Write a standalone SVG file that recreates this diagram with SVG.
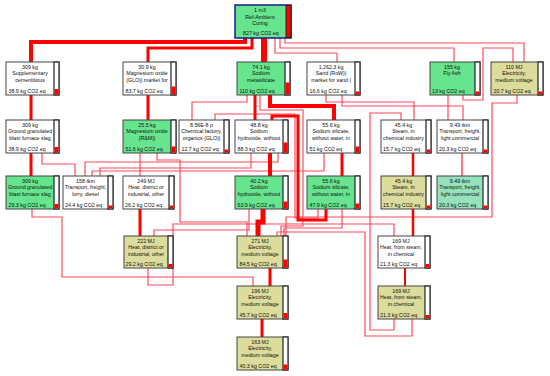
<svg xmlns="http://www.w3.org/2000/svg" width="550" height="376" viewBox="0 0 550 376">
<style>
.b{stroke:#444;stroke-width:1}
.w{fill:#fff}.g{fill:#66e48e}.k{fill:#dcdc9c}.tg{fill:#96e2bc}
.bar{fill:#fff;stroke:#222;stroke-width:1.2}
.r{fill:#f00}
text{font-family:"Liberation Sans",Arial,sans-serif;font-size:5.3px;fill:#111}
.c{text-anchor:middle}
.th{fill:none;stroke:#ff0000;stroke-linejoin:miter}
.tn{fill:none;stroke:#ff4b5c;stroke-width:1.2}
</style>
<rect width="550" height="376" fill="#fff"/>
<g id="connectors">
<path class="tn" d="M275,38 V53 H337 V62"/>
<path class="tn" d="M280,38 V48 H454 V62"/>
<path class="tn" d="M285,38 V43 H524 V62"/>
<path class="tn" d="M247,95 V102 H192 V120"/>
<path class="tn" d="M260,95 V110 H303 V226 H281 V236"/>
<path class="tn" d="M342,95 V106 H463 V120"/>
<path class="tn" d="M326,95 V102 H414 V120"/>
<path class="tn" d="M448,95 V120"/>
<path class="tn" d="M463,95 V100 H483 V48 H513 V62"/>
<path class="tn" d="M517,95 V103 H492 V217 H286 V236"/>
<path class="tn" d="M394,319 V330 H370 V113 H401 V120"/>
<path class="tn" d="M412,319 V336 H365 V232 H277 V236"/>
<path class="tn" d="M148,268 V285 H173 V224 H394 V236"/>
<path class="tn" d="M32,209 V217 H62 V277 H253 V286"/>
<path class="tn" d="M42,153 V164 H75 V176"/>
<path class="tn" d="M140,153 V176"/>
<path class="tn" d="M157,153 V160 H180 V222 H247 V236"/>
<path class="tn" d="M249,209 V230 H154 V236"/>
<path class="tn" d="M318,209 V218 H295 V114 H215 V120"/>
<path class="tn" d="M324,153 V171 H92 V176"/>
<path class="tn" d="M251,153 V168 H100 V176"/>
<path class="tn" d="M278,153 V162 H85 V176"/>
<path class="tn" d="M342,209 V228 H284 V236"/>
<path class="tn" d="M462,153 V176" style="stroke-width:1.5"/>
<path class="th" d="M245,38 V42 H31 V62" stroke-width="4"/>
<path class="th" d="M252,38 V48 H148 V62" stroke-width="3"/>
<path class="th" d="M264,38 V62" stroke-width="6"/>
<path class="th" d="M31,95 V120" stroke-width="3"/>
<path class="th" d="M148,95 V120" stroke-width="3"/>
<path class="th" d="M255,95 V120" stroke-width="3"/>
<path class="th" d="M270,95 V106 H334 V120" stroke-width="4"/>
<path class="th" d="M31,153 V176" stroke-width="3"/>
<path class="th" d="M270,153 V176" stroke-width="4"/>
<path class="th" d="M342,153 V176" stroke-width="3"/>
<path class="th" d="M413,153 V176" stroke-width="2.5"/>
<path class="th" d="M140,209 V236" stroke-width="3"/>
<path class="th" d="M263,209 V222 H258 V236" stroke-width="5"/>
<path class="th" d="M326,209 V220 H298 V116 H272 V120" stroke-width="3"/>
<path class="th" d="M413,209 V236" stroke-width="2.5"/>
<path class="th" d="M405,268 V286" stroke-width="2"/>
<path class="th" d="M270,268 V286" stroke-width="3"/>
<path class="th" d="M262,319 V337" stroke-width="3"/>
</g>
<g id="n-top"><rect class="g" x="235" y="5" width="56" height="33" stroke="#1a1a8a" stroke-width="1.5"/><rect x="286" y="5.5" width="5" height="32" fill="#f00" stroke="#222" stroke-width="1"/><text class="c" x="260" y="12">1 m3</text><text class="c" x="260" y="18.5">Ref-Ambient</text><text class="c" x="260" y="25">Curing</text><text x="243" y="35">827 kg CO2 eq</text></g>
<g id="n-supp"><rect class="b w" x="6" y="62" width="53" height="33"/><rect class="bar" x="54" y="62" width="5" height="33"/><rect class="r" x="54.5" y="89" width="4" height="5.5"/><text class="c" x="30" y="68.5">309 kg</text><text class="c" x="30" y="75">Supplementary</text><text class="c" x="30" y="81.5">cementitious</text><text x="8.5" y="92.5">38.9 kg CO2 eq</text></g>
<g id="n-mgomkt"><rect class="b w" x="123" y="62" width="53" height="33"/><rect class="bar" x="171" y="62" width="5" height="33"/><rect class="r" x="171.5" y="86.5" width="4" height="8"/><text class="c" x="147" y="68.5">30.9 kg</text><text class="c" x="147" y="75">Magnesium oxide</text><text class="c" x="147" y="81.5">{GLO}| market for</text><text x="125.5" y="92.5">83.7 kg CO2 eq</text></g>
<g id="n-meta"><rect class="b g" x="237" y="62" width="53" height="33"/><rect class="bar" x="285" y="62" width="5" height="33"/><rect class="r" x="285.5" y="82.5" width="4" height="12"/><text class="c" x="261" y="68.5">74.1 kg</text><text class="c" x="261" y="75">Sodium</text><text class="c" x="261" y="81.5">metasilicate</text><text x="239.5" y="92.5">110 kg CO2 eq</text></g>
<g id="n-sand"><rect class="b w" x="307" y="62" width="53" height="33"/><rect class="bar" x="355" y="62" width="5" height="33"/><rect class="r" x="355.5" y="91.5" width="4" height="3"/><text class="c" x="331" y="68.5">1,262.3 kg</text><text class="c" x="331" y="75">Sand {RoW}|</text><text class="c" x="331" y="81.5">market for sand |</text><text x="309.5" y="92.5">16.6 kg CO2 eq</text></g>
<g id="n-fly"><rect class="b g" x="430" y="62" width="50" height="33"/><rect class="bar" x="475" y="62" width="5" height="33"/><rect class="r" x="475.5" y="91.5" width="4" height="3"/><text class="c" x="452" y="68.5">155 kg</text><text class="c" x="452" y="75">Fly Ash</text><text x="432" y="92.5">13 kg CO2 eq</text></g>
<g id="n-elec110"><rect class="b k" x="491" y="62" width="52" height="33"/><rect class="bar" x="538" y="62" width="5" height="33"/><rect class="r" x="538.5" y="91.5" width="4" height="3"/><text class="c" x="514" y="68.5">110 MJ</text><text class="c" x="514" y="75">Electricity,</text><text class="c" x="514" y="81.5">medium voltage</text><text x="493.5" y="92.5">20.7 kg CO2 eq</text></g>
<g id="n-slag1"><rect class="b w" x="6" y="120" width="53" height="33"/><rect class="bar" x="54" y="120" width="5" height="33"/><rect class="r" x="54.5" y="147" width="4" height="5.5"/><text class="c" x="30" y="126.5">309 kg</text><text class="c" x="30" y="133">Ground granulated</text><text class="c" x="30" y="139.5">blast furnace slag</text><text x="8.5" y="150.5">38.9 kg CO2 eq</text></g>
<g id="n-mgorm"><rect class="b g" x="123" y="120" width="53" height="33"/><rect class="bar" x="171" y="120" width="5" height="33"/><rect class="r" x="171.5" y="146.5" width="4" height="6"/><text class="c" x="147" y="126.5">25.5 kg</text><text class="c" x="147" y="133">Magnesium oxide</text><text class="c" x="147" y="139.5">{R&amp;M}|</text><text x="125.5" y="150.5">51.6 kg CO2 eq</text></g>
<g id="n-chem"><rect class="b w" x="179" y="120" width="50" height="33"/><rect class="bar" x="224" y="120" width="5" height="33"/><rect class="r" x="224.5" y="149.5" width="4" height="3"/><text class="c" x="201.5" y="126.5">8.56E-8 p</text><text class="c" x="201.5" y="133">Chemical factory,</text><text class="c" x="201.5" y="139.5">organics {GLO}|</text><text x="181.5" y="150.5">12.7 kg CO2 eq</text></g>
<g id="n-naoh1"><rect class="b w" x="235" y="120" width="53" height="33"/><rect class="bar" x="283" y="120" width="5" height="33"/><rect class="r" x="283.5" y="142.5" width="4" height="10"/><text class="c" x="259" y="126.5">48.8 kg</text><text class="c" x="259" y="133">Sodium</text><text class="c" x="259" y="139.5">hydroxide, without</text><text x="237.5" y="150.5">88.3 kg CO2 eq</text></g>
<g id="n-nasil1"><rect class="b w" x="307" y="120" width="53" height="33"/><rect class="bar" x="355" y="120" width="5" height="33"/><rect class="r" x="355.5" y="146.5" width="4" height="6"/><text class="c" x="331" y="126.5">55.6 kg</text><text class="c" x="331" y="133">Sodium silicate,</text><text class="c" x="331" y="139.5">without water, in</text><text x="309.5" y="150.5">51 kg CO2 eq</text></g>
<g id="n-steam1"><rect class="b w" x="381" y="120" width="50" height="33"/><rect class="bar" x="426" y="120" width="5" height="33"/><rect class="r" x="426.5" y="149.5" width="4" height="3"/><text class="c" x="403.5" y="126.5">45.4 kg</text><text class="c" x="403.5" y="133">Steam, in</text><text class="c" x="403.5" y="139.5">chemical industry</text><text x="383" y="150.5">15.7 kg CO2 eq</text></g>
<g id="n-trans1"><rect class="b w" x="437" y="120" width="51" height="33"/><rect class="bar" x="483" y="120" width="5" height="33"/><rect class="r" x="483.5" y="149.5" width="4" height="3"/><text class="c" x="460" y="126.5">9.49 tkm</text><text class="c" x="460" y="133">Transport, freight,</text><text class="c" x="460" y="139.5">light commercial</text><text x="439" y="150.5">20.3 kg CO2 eq</text></g>
<g id="n-slag2"><rect class="b g" x="6" y="176" width="53" height="33"/><rect class="bar" x="54" y="176" width="5" height="33"/><rect class="r" x="54.5" y="204" width="4" height="4.5"/><text class="c" x="30" y="182.5">309 kg</text><text class="c" x="30" y="189">Ground granulated</text><text class="c" x="30" y="195.5">blast furnace slag</text><text x="8.5" y="206.5">29.3 kg CO2 eq</text></g>
<g id="n-lorry"><rect class="b w" x="63" y="176" width="50" height="33"/><rect class="bar" x="108" y="176" width="5" height="33"/><rect class="r" x="108.5" y="205.5" width="4" height="3"/><text class="c" x="85.5" y="182.5">158 tkm</text><text class="c" x="85.5" y="189">Transport, freight,</text><text class="c" x="85.5" y="195.5">lorry, diesel</text><text x="65" y="206.5">24.4 kg CO2 eq</text></g>
<g id="n-heat249"><rect class="b w" x="123" y="176" width="51" height="33"/><rect class="bar" x="169" y="176" width="5" height="33"/><rect class="r" x="169.5" y="205.5" width="4" height="3"/><text class="c" x="146" y="182.5">249 MJ</text><text class="c" x="146" y="189">Heat, district or</text><text class="c" x="146" y="195.5">industrial, other</text><text x="125" y="206.5">26.2 kg CO2 eq</text></g>
<g id="n-naoh2"><rect class="b g" x="235" y="176" width="53" height="33"/><rect class="bar" x="283" y="176" width="5" height="33"/><rect class="r" x="283.5" y="201.5" width="4" height="7"/><text class="c" x="259" y="182.5">40.2 kg</text><text class="c" x="259" y="189">Sodium</text><text class="c" x="259" y="195.5">hydroxide, without</text><text x="237.5" y="206.5">63.9 kg CO2 eq</text></g>
<g id="n-nasil2"><rect class="b g" x="307" y="176" width="53" height="33"/><rect class="bar" x="355" y="176" width="5" height="33"/><rect class="r" x="355.5" y="203.5" width="4" height="5"/><text class="c" x="331" y="182.5">55.6 kg</text><text class="c" x="331" y="189">Sodium silicate,</text><text class="c" x="331" y="195.5">without water, in</text><text x="309.5" y="206.5">47.9 kg CO2 eq</text></g>
<g id="n-steam2"><rect class="b k" x="381" y="176" width="50" height="33"/><rect class="bar" x="426" y="176" width="5" height="33"/><rect class="r" x="426.5" y="205.5" width="4" height="3"/><text class="c" x="403.5" y="182.5">45.4 kg</text><text class="c" x="403.5" y="189">Steam, in</text><text class="c" x="403.5" y="195.5">chemical industry</text><text x="383" y="206.5">15.7 kg CO2 eq</text></g>
<g id="n-trans2"><rect class="b tg" x="437" y="176" width="51" height="33"/><rect class="bar" x="483" y="176" width="5" height="33"/><rect class="r" x="483.5" y="205.5" width="4" height="3"/><text class="c" x="460" y="182.5">9.49 tkm</text><text class="c" x="460" y="189">Transport, freight,</text><text class="c" x="460" y="195.5">light commercial</text><text x="439" y="206.5">20.3 kg CO2 eq</text></g>
<g id="n-heat222"><rect class="b k" x="124" y="236" width="49" height="32"/><rect class="bar" x="168" y="236" width="5" height="32"/><rect class="r" x="168.5" y="264" width="4" height="3.5"/><text class="c" x="146" y="242.5">222 MJ</text><text class="c" x="146" y="249">Heat, district or</text><text class="c" x="146" y="255.5">industrial, other</text><text x="125.5" y="265.5">29.2 kg CO2 eq</text></g>
<g id="n-elec271"><rect class="b k" x="237" y="236" width="51" height="32"/><rect class="bar" x="283" y="236" width="5" height="32"/><rect class="r" x="283.5" y="259.5" width="4" height="8"/><text class="c" x="260" y="242.5">271 MJ</text><text class="c" x="260" y="249">Electricity,</text><text class="c" x="260" y="255.5">medium voltage</text><text x="239.5" y="265.5">84.5 kg CO2 eq</text></g>
<g id="n-heat169a"><rect class="b w" x="378" y="236" width="52" height="32"/><rect class="bar" x="425" y="236" width="5" height="32"/><rect class="r" x="425.5" y="264" width="4" height="3.5"/><text class="c" x="401" y="242.5">169 MJ</text><text class="c" x="401" y="249">Heat, from steam,</text><text class="c" x="401" y="255.5">in chemical</text><text x="380" y="265.5">21.3 kg CO2 eq</text></g>
<g id="n-elec196"><rect class="b k" x="237" y="286" width="51" height="33"/><rect class="bar" x="283" y="286" width="5" height="33"/><rect class="r" x="283.5" y="313" width="4" height="5.5"/><text class="c" x="260" y="292.5">196 MJ</text><text class="c" x="260" y="299">Electricity,</text><text class="c" x="260" y="305.5">medium voltage</text><text x="239.5" y="316.5">45.7 kg CO2 eq</text></g>
<g id="n-heat169b"><rect class="b k" x="378" y="286" width="52" height="33"/><rect class="bar" x="425" y="286" width="5" height="33"/><rect class="r" x="425.5" y="315" width="4" height="3.5"/><text class="c" x="401" y="292.5">169 MJ</text><text class="c" x="401" y="299">Heat, from steam,</text><text class="c" x="401" y="305.5">in chemical</text><text x="380" y="316.5">21.3 kg CO2 eq</text></g>
<g id="n-elec163"><rect class="b k" x="237" y="337" width="51" height="33"/><rect class="bar" x="283" y="337" width="5" height="33"/><rect class="r" x="283.5" y="364.5" width="4" height="5"/><text class="c" x="260" y="343.5">163 MJ</text><text class="c" x="260" y="350">Electricity,</text><text class="c" x="260" y="356.5">medium voltage</text><text x="239.5" y="367.5">40.3 kg CO2 eq</text></g>
</svg>
